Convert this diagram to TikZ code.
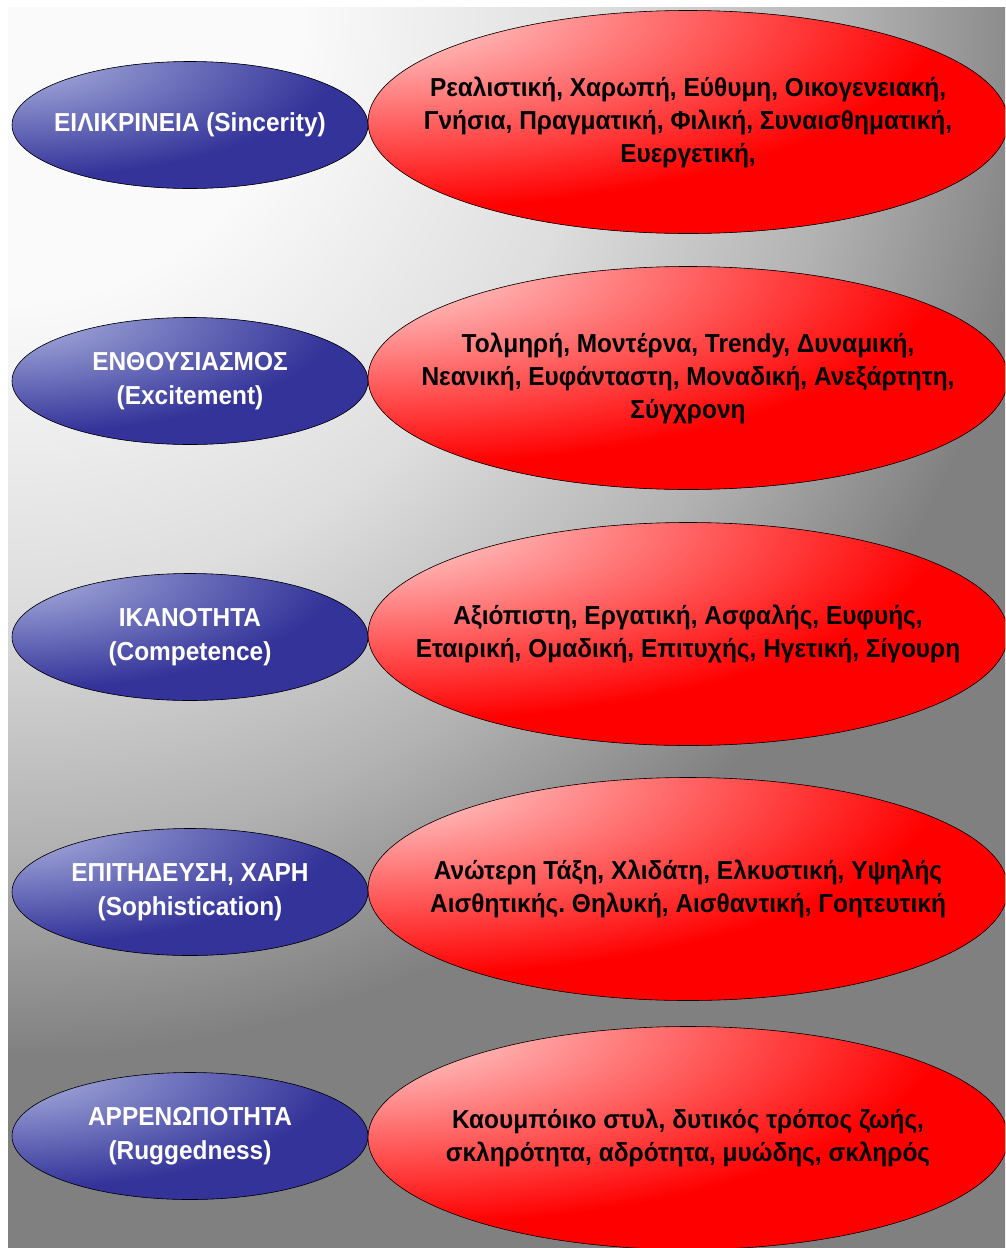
\documentclass[tikz,border=0pt]{standalone}
\usepackage{fontspec}
\setmainfont{Liberation Sans}[FakeStretch=0.94]
\frenchspacing
\usetikzlibrary{shapes.geometric}
\definecolor{bglight}{RGB}{250,250,250}
\definecolor{bgmid}{RGB}{222,222,222}
\definecolor{bgmiddark}{RGB}{178,178,178}
\definecolor{bgdark}{RGB}{128,128,128}
\definecolor{traitblue}{RGB}{51,51,153}
\definecolor{traitbluelight}{RGB}{175,182,225}
\definecolor{descred}{RGB}{255,0,0}
\definecolor{descredlight}{RGB}{255,225,225}
% radial gradients, centre of the circle = lightest point, full colour at 12.5bp
\pgfdeclareradialshading{bgshade}{\pgfpoint{0bp}{0bp}}{color(0bp)=(bglight); color(3.5bp)=(bglight);
  color(7bp)=(bgmid); color(10bp)=(bgmiddark); color(12.5bp)=(bgdark); color(50bp)=(bgdark)}
\pgfdeclareradialshading{blueshade}{\pgfpoint{0bp}{0bp}}{color(0bp)=(traitbluelight);
  color(12.5bp)=(traitblue); color(50bp)=(traitblue)}
\pgfdeclareradialshading{redshade}{\pgfpoint{0bp}{0bp}}{color(0bp)=(descredlight);
  color(12.5bp)=(descred); color(50bp)=(descred)}

\begin{document}
\begin{tikzpicture}
    [
    x=1pt,y=-1pt,
    trait/.style={ellipse,draw=black,line width=0.6pt,inner sep=0pt,minimum width=356pt,minimum height=127pt,
      fill=traitblue,path picture={\shade[shading=blueshade] (path picture bounding box.north west) ellipse (650pt and 232pt);}},
    desc/.style={ellipse,draw=black,line width=0.6pt,inner sep=0pt,minimum width=640pt,minimum height=223pt,
      fill=descred,path picture={\shade[shading=redshade] (path picture bounding box.north west) ellipse (1152pt and 400pt);}},
    traittext/.style={text=white,align=center,font=\bfseries\fontsize{26}{34}\selectfont},
    desctext/.style={text=black,align=center,font=\bfseries\fontsize{26}{33}\selectfont}
    ]
    \useasboundingbox (0,0) rectangle (1005,1248);
    \begin{scope}
    \clip (8,7) rectangle (1005,1248);
    \shade [shading=bgshade] (8,7) circle (2100pt);
    \end{scope}
    \begin{scope}
    \clip (0,0) rectangle (1005,1248);
    % sincerity
    \node (t1) at (190,125) [trait] {};
    \node (d1) at (688,122) [desc] {};
    \node (t1text) at (t1) [traittext] {ΕΙΛΙΚΡΙΝΕΙΑ (Sincerity)};
    \node (d1text) at (d1) [desctext] {Ρεαλιστική, Χαρωπή, Εύθυμη, Οικογενειακή,\\Γνήσια, Πραγματική, Φιλική, Συναισθηματική,\\Ευεργετική,};
    % excitement
    \node (t2) at (190,381) [trait] {};
    \node (d2) at (688,378) [desc] {};
    \node (t2text) at (t2) [traittext] {ΕΝΘΟΥΣΙΑΣΜΟΣ\\(Excitement)};
    \node (d2text) at (d2) [desctext] {Τολμηρή, Μοντέρνα, Trendy, Δυναμική,\\Νεανική, Ευφάνταστη, Μοναδική, Ανεξάρτητη,\\Σύγχρονη};
    % competence
    \node (t3) at (190,637) [trait] {};
    \node (d3) at (688,634) [desc] {};
    \node (t3text) at (t3) [traittext] {ΙΚΑΝΟΤΗΤΑ\\(Competence)};
    \node (d3text) at (d3) [desctext] {Αξιόπιστη, Εργατική, Ασφαλής, Ευφυής,\\Εταιρική, Ομαδική, Επιτυχής, Ηγετική, Σίγουρη};
    % sophistication
    \node (t4) at (190,892) [trait] {};
    \node (d4) at (688,889) [desc] {};
    \node (t4text) at (t4) [traittext] {ΕΠΙΤΗΔΕΥΣΗ, ΧΑΡΗ\\(Sophistication)};
    \node (d4text) at (d4) [desctext] {Ανώτερη Τάξη, Χλιδάτη, Ελκυστική, Υψηλής\\Αισθητικής. Θηλυκή, Αισθαντική, Γοητευτική};
    % ruggedness
    \node (t5) at (190,1136) [trait] {};
    \node (d5) at (688,1138) [desc] {};
    \node (t5text) at (t5) [traittext] {ΑΡΡΕΝΩΠΟΤΗΤΑ\\(Ruggedness)};
    \node (d5text) at (d5) [desctext] {Καουμπόικο στυλ, δυτικός τρόπος ζωής,\\σκληρότητα, αδρότητα, μυώδης, σκληρός};
    \end{scope}
\end{tikzpicture}
\end{document}
